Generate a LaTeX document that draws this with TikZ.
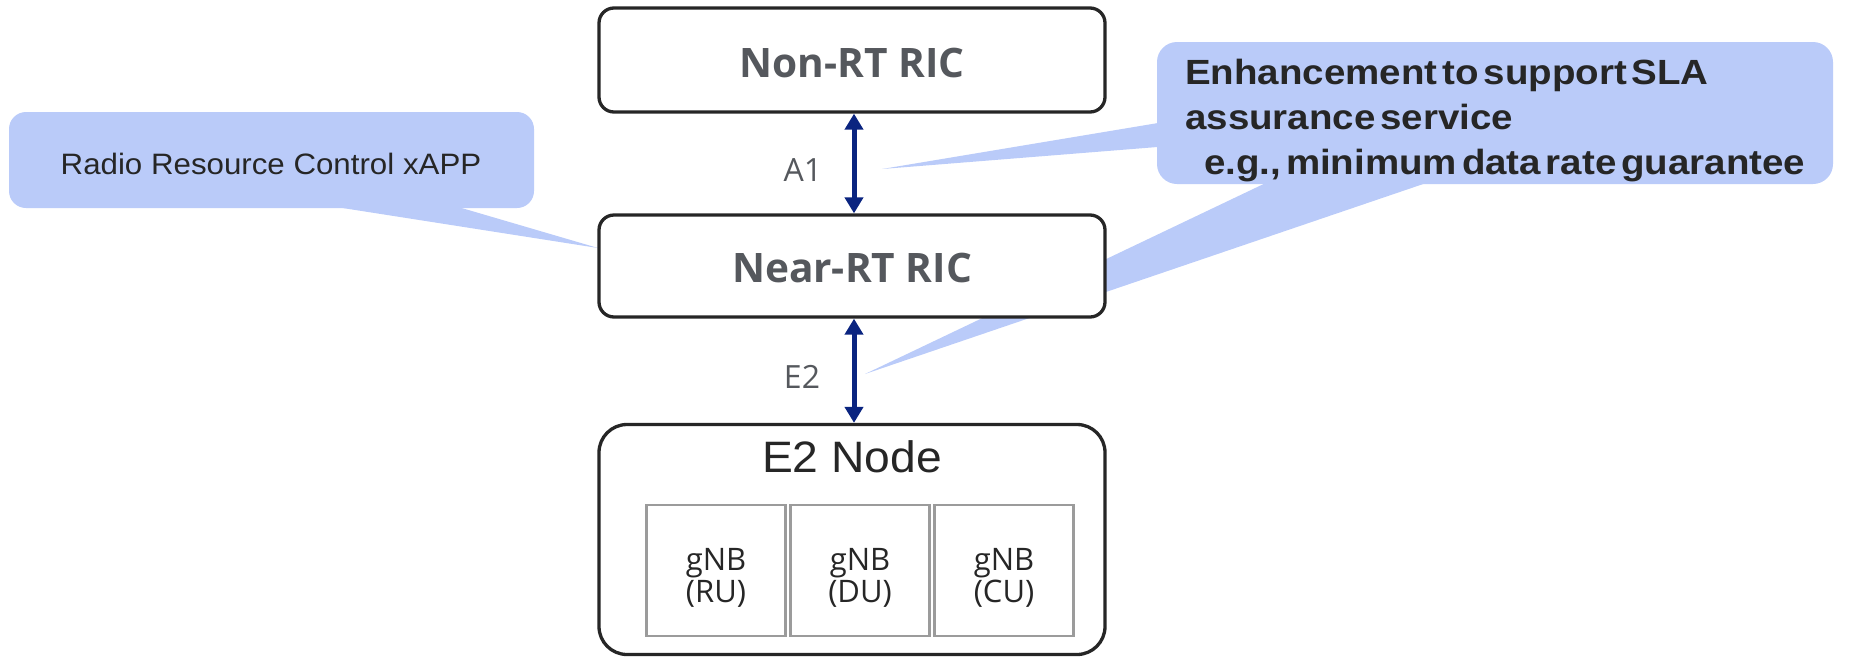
\documentclass[tikz,border=0pt]{standalone}
\usepackage{fontspec}
\setmainfont{Liberation Sans}
\newfontfamily\ricfont{Open Sans}
\newfontfamily\lblfont{Open Sans}
\newfontfamily\calloutfont[FakeStretch=1.1,WordSpace=0.45]{Liberation Sans}
\newfontfamily\rrcfont[FakeStretch=1.06]{Liberation Sans}
\newfontfamily\titlefont[FakeStretch=1.05]{Liberation Sans}
\usetikzlibrary{arrows.meta}
\definecolor{callblue}{RGB}{186,203,249}
\definecolor{navy}{RGB}{10,36,128}
\definecolor{boxline}{RGB}{38,38,38}
\definecolor{gnbline}{RGB}{155,155,155}
\definecolor{labelgray}{RGB}{85,88,93}
\definecolor{txt}{RGB}{38,38,38}
\begin{document}
\begin{tikzpicture}[x=1pt,y=-1pt,
  callout/.style={fill=callblue, draw=none, inner sep=0pt},
  ricbox/.style={draw=boxline, line width=3.3pt, fill=white, rounded corners=15pt,
    minimum width=506pt, inner sep=0pt, text=labelgray,
    font=\ricfont\bfseries\fontsize{40.6}{48}\selectfont, text depth=0pt},
  e2box/.style={draw=boxline, line width=3.3pt, fill=white, rounded corners=28pt,
    minimum width=506pt, minimum height=230pt, inner sep=0pt},
  gnb/.style={draw=gnbline, line width=2.8pt, minimum width=139pt, minimum height=131pt, inner sep=0pt},
  gnbtext/.style={text=txt, align=center, inner sep=0pt, font=\lblfont\fontsize{31}{32}\selectfont},
  lbl/.style={text=labelgray, inner sep=0pt, font=\lblfont\fontsize{32}{36}\selectfont},
  biarrow/.style={draw=navy, line width=5pt, {Triangle[width=18pt,length=16pt]}-{Triangle[width=18pt,length=16pt]}}
]
\useasboundingbox (0,0) rectangle (1866,657);

% ---- callout: Radio Resource Control xAPP
\node[callout, rounded corners=17pt, minimum width=525pt, minimum height=96pt] (rrc) at (271.5,160) {};
\coordinate (rrctip) at (598,248);
\fill[callblue] (317,204) -- (448,204) -- (rrctip) -- cycle;
\node[text=txt, inner sep=0pt, anchor=base, font=\rrcfont\fontsize{29.5}{35}\selectfont] (rrctext) at (271,174) {Radio Resource Control xAPP};

% ---- callout: SLA
\node[callout, rounded corners=20pt, minimum width=676pt, minimum height=142pt] (sla) at (1495,113) {};
\coordinate (a1tip) at (882,169);
\coordinate (e2tip) at (865,374);
\fill[callblue] (1170,121) -- (1170,146) -- (a1tip) -- cycle;
\fill[callblue] (1272,180) -- (1435,180) -- (e2tip) -- cycle;
\node[text=txt, inner sep=0pt, anchor=north west, align=left,
  font=\calloutfont\bfseries\fontsize{35}{45}\selectfont] (slatext) at (1185,58.5)
  {Enhancement to support SLA\\assurance service\\\hspace*{19pt}e.g., minimum data rate guarantee};

% ---- RIC boxes
\node[ricbox, minimum height=104pt, text height=34pt] (nonrt) at (852,60) {Non-RT RIC};
\node[ricbox, minimum height=102pt, text height=32pt] (nearrt) at (852,266) {Near-RT RIC};

% ---- E2 node
\node[e2box] (e2node) at (852,539.5) {};
\node[text=txt, inner sep=0pt, anchor=base, font=\titlefont\fontsize{44}{50}\selectfont] (e2title) at (852,472) {E2 Node};
\node[gnb] (ru) at (716,570.5) {};
\node[gnb] (du) at (860,570.5) {};
\node[gnb] (cu) at (1004,570.5) {};
\node[gnbtext, anchor=north] (rutext) at (716,548) {gNB\\(RU)};
\node[gnbtext, anchor=north] (dutext) at (860,548) {gNB\\(DU)};
\node[gnbtext, anchor=north] (cutext) at (1004,548) {gNB\\(CU)};

% ---- interfaces
\draw[biarrow] ([xshift=2pt]nonrt.south) -- ([xshift=2pt]nearrt.north);
\draw[biarrow] ([xshift=2pt]nearrt.south) -- ([xshift=2pt]e2node.north);
\node[lbl, anchor=base] (a1lbl) at (803,181) {A1};
\node[lbl, anchor=base] (e2lbl) at (802,388) {E2};
\end{tikzpicture}
\end{document}
